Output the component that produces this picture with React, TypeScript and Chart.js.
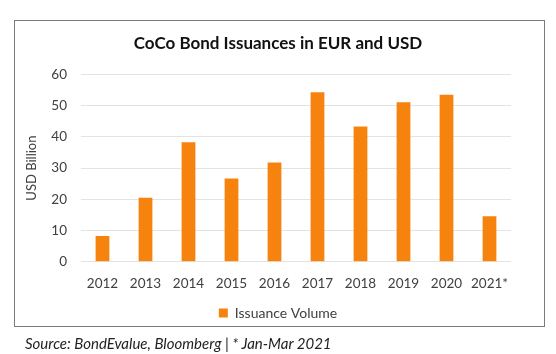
import React, { useEffect, useRef } from "react";
import { Chart, registerables } from "chart.js";

Chart.register(...registerables);

const categories = ["2012", "2013", "2014", "2015", "2016", "2017", "2018", "2019", "2020", "2021*"];
const issuanceVolume = [8.3, 20.5, 38.3, 26.7, 31.8, 54.3, 43.3, 51.1, 53.5, 14.6];
const seriesLabel = "Issuance Volume";
const chartTitle = "CoCo Bond Issuances in EUR and USD";
const yAxisTitle = "USD Billion";
const sourceNote = "Source: BondEvalue, Bloomberg | * Jan-Mar 2021";

const FONT = "Lato, 'Open Sans', sans-serif";

export default function App() {
  const canvasRef = useRef<HTMLCanvasElement | null>(null);

  useEffect(() => {
    if (!canvasRef.current) return;
    const chart = new Chart(canvasRef.current, {
      type: "bar",
      data: {
        labels: categories,
        datasets: [
          {
            label: seriesLabel,
            data: issuanceVolume,
            backgroundColor: "#F7830F",
            borderWidth: 0,
            categoryPercentage: 1,
            barPercentage: 0.32,
          },
        ],
      },
      options: {
        animation: false,
        responsive: false,
        maintainAspectRatio: false,
        layout: { padding: { left: 0, right: 0, top: 0, bottom: 24 } },
        plugins: {
          title: {
            display: true,
            text: chartTitle,
            color: "#111",
            font: { family: FONT, size: 17, weight: "bold" },
            padding: { top: 33, bottom: 21 },
          },
          legend: {
            position: "bottom",
            labels: {
              boxWidth: 9,
              boxHeight: 9,
              color: "#404040",
              font: { family: FONT, size: 14 },
              padding: 0,
            },
          },
          tooltip: { enabled: false },
        },
        scales: {
          x: {
            grid: { display: false, drawTicks: false },
            border: { display: false },
            ticks: {
              color: "#404040",
              font: { family: FONT, size: 13.5 },
              padding: 14,
              maxRotation: 0,
              minRotation: 0,
              autoSkip: false,
            },
          },
          y: {
            min: 0,
            max: 60,
            afterFit: (s: any) => {
              s.width = 81;
            },
            ticks: {
              stepSize: 10,
              color: "#404040",
              font: { family: FONT, size: 13.5 },
              padding: 14,
            },
            grid: { color: "#e3e3e3", drawTicks: false, lineWidth: 1 },
            border: { display: false },
            title: {
              display: true,
              text: yAxisTitle,
              color: "#404040",
              font: { family: FONT, size: 13 },
              padding: { top: 24, bottom: 0 },
            },
          },
          yRight: {
            position: "right",
            display: true,
            grid: { display: false, drawTicks: false },
            border: { display: false },
            ticks: { display: false },
            afterFit: (s: any) => {
              s.width = 45;
            },
          },
        },
      },
    });
    return () => chart.destroy();
  }, []);

  return (
    <div style={{ position: "absolute", left: 0, top: 0, width: 556, height: 354, background: "#fff" }}>
      <div
        style={{
          position: "absolute",
          left: 14,
          top: 20,
          width: 529,
          height: 305,
          border: "1.5px solid #7a7a7a",
          boxSizing: "content-box",
        }}
      />
      <canvas ref={canvasRef} width={556} height={354} style={{ position: "absolute", left: 0, top: 0 }} />
      <div
        style={{
          position: "absolute",
          left: 25,
          top: 334,
          fontFamily: FONT,
          fontStyle: "italic",
          fontSize: 15,
          color: "#222",
          whiteSpace: "nowrap",
          lineHeight: "18px",
        }}
      >
        {sourceNote}
      </div>
    </div>
  );
}
